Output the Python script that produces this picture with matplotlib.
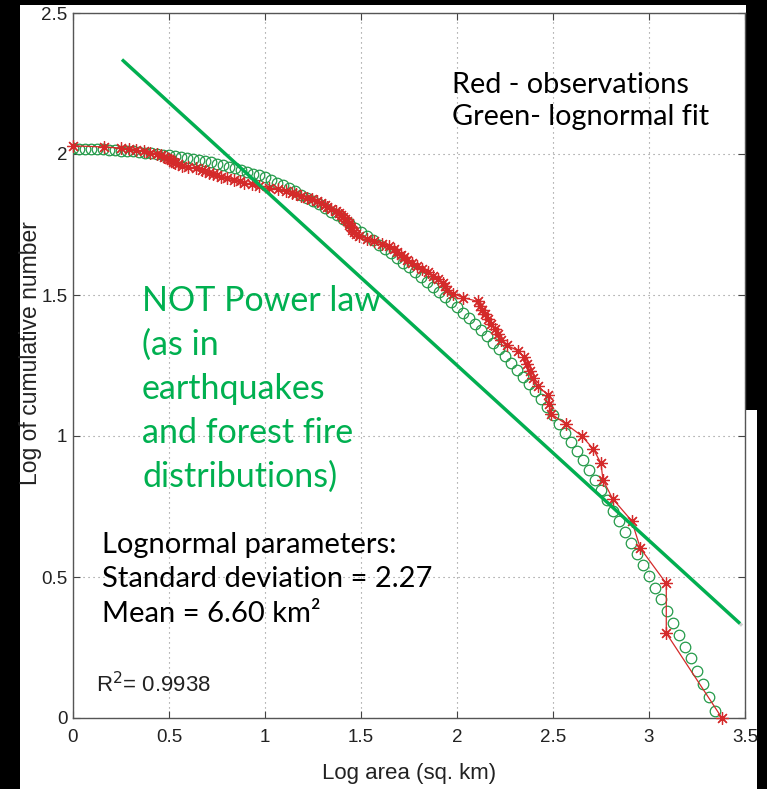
import matplotlib
matplotlib.use("Agg")
import matplotlib.pyplot as plt
import matplotlib.patheffects as pe
from matplotlib.patches import Rectangle

# lognormal fit (green circles)
fit_x = [0.000, 0.031, 0.062, 0.094, 0.125, 0.156, 0.188, 0.219, 0.250, 0.281, 0.312, 0.344,
         0.375, 0.406, 0.438, 0.469, 0.500, 0.531, 0.562, 0.594, 0.625, 0.656, 0.688, 0.719,
         0.750, 0.781, 0.812, 0.844, 0.875, 0.906, 0.938, 0.969, 1.000, 1.031, 1.062, 1.094,
         1.125, 1.156, 1.188, 1.219, 1.250, 1.281, 1.312, 1.344, 1.375, 1.406, 1.438, 1.469,
         1.500, 1.531, 1.562, 1.594, 1.625, 1.656, 1.688, 1.719, 1.750, 1.781, 1.812, 1.844,
         1.875, 1.906, 1.938, 1.969, 2.000, 2.031, 2.062, 2.094, 2.125, 2.156, 2.188, 2.219,
         2.250, 2.281, 2.312, 2.344, 2.375, 2.406, 2.438, 2.469, 2.500, 2.531, 2.562, 2.594,
         2.625, 2.656, 2.688, 2.719, 2.750, 2.781, 2.812, 2.844, 2.875, 2.906, 2.938, 2.969,
         3.000, 3.031, 3.062, 3.094, 3.125, 3.156, 3.188, 3.219, 3.250, 3.281, 3.312, 3.344]
fit_y = [2.020, 2.019, 2.019, 2.018, 2.017, 2.016, 2.015, 2.013, 2.012, 2.010, 2.009, 2.007,
         2.005, 2.003, 2.001, 1.998, 1.996, 1.993, 1.990, 1.986, 1.983, 1.979, 1.975, 1.970,
         1.966, 1.960, 1.955, 1.949, 1.944, 1.937, 1.930, 1.924, 1.917, 1.908, 1.898, 1.889,
         1.879, 1.868, 1.856, 1.845, 1.834, 1.821, 1.808, 1.795, 1.782, 1.768, 1.754, 1.739,
         1.725, 1.710, 1.694, 1.679, 1.664, 1.648, 1.632, 1.615, 1.599, 1.582, 1.564, 1.547,
         1.530, 1.512, 1.494, 1.476, 1.458, 1.437, 1.417, 1.396, 1.375, 1.353, 1.330, 1.308,
         1.285, 1.260, 1.235, 1.210, 1.185, 1.158, 1.130, 1.103, 1.075, 1.043, 1.011, 0.980,
         0.948, 0.914, 0.879, 0.845, 0.810, 0.773, 0.735, 0.698, 0.660, 0.621, 0.582, 0.542,
         0.503, 0.462, 0.421, 0.379, 0.338, 0.296, 0.253, 0.211, 0.168, 0.122, 0.075, 0.025]

# observations (red stars)
obs_x = [0.00, 0.16, 0.25, 0.29, 0.33, 0.37, 0.40, 0.44, 0.46, 0.475, 0.49, 0.50, 0.51, 0.52,
         0.53, 0.545, 0.57, 0.60, 0.64, 0.67, 0.69, 0.71, 0.73, 0.75, 0.77, 0.80, 0.84, 0.87,
         0.89, 0.93, 0.97, 1.02, 1.07, 1.11, 1.14, 1.16, 1.19, 1.22, 1.245, 1.27, 1.29, 1.31,
         1.325, 1.345, 1.37, 1.385, 1.395, 1.405, 1.415, 1.425, 1.435, 1.44, 1.45, 1.455, 1.465,
         1.475, 1.49, 1.53, 1.57, 1.61, 1.645, 1.67, 1.69, 1.71, 1.725, 1.74, 1.765, 1.79,
         1.82, 1.85, 1.875, 1.90, 1.925, 1.935, 1.95, 1.98, 2.03, 2.11, 2.12, 2.13, 2.147,
         2.163, 2.178, 2.20, 2.215, 2.228, 2.26, 2.32, 2.35, 2.365, 2.38, 2.395, 2.42, 2.475,
         2.48, 2.49, 2.57, 2.65, 2.71, 2.75, 2.76, 2.81, 2.91, 2.955, 3.09, 3.09, 3.38]
obs_y = [2.029, 2.025, 2.021, 2.017, 2.013, 2.009, 2.004, 2.000, 1.996, 1.991, 1.987, 1.982,
         1.978, 1.973, 1.968, 1.964, 1.959, 1.954, 1.949, 1.944, 1.940, 1.934, 1.929, 1.924,
         1.919, 1.914, 1.908, 1.903, 1.898, 1.892, 1.886, 1.881, 1.875, 1.869, 1.863, 1.857,
         1.851, 1.845, 1.839, 1.833, 1.826, 1.820, 1.813, 1.806, 1.799, 1.792, 1.785, 1.778,
         1.771, 1.763, 1.756, 1.748, 1.740, 1.732, 1.724, 1.716, 1.708, 1.699, 1.690, 1.681,
         1.672, 1.663, 1.653, 1.643, 1.633, 1.623, 1.613, 1.602, 1.591, 1.580, 1.568, 1.556,
         1.544, 1.531, 1.519, 1.505, 1.491, 1.477, 1.462, 1.447, 1.431, 1.415, 1.398, 1.380,
         1.362, 1.342, 1.322, 1.301, 1.279, 1.255, 1.230, 1.204, 1.176, 1.146, 1.114, 1.079,
         1.041, 1.000, 0.954, 0.903, 0.845, 0.778, 0.699, 0.602, 0.477, 0.301, 0.000]

# hand-drawn power law line
power_x = [0.255, 3.474]
power_y = [2.335, 0.335]

x_ticks = [0, 0.5, 1, 1.5, 2, 2.5, 3, 3.5]
x_tick_labels = ["0", "0.5", "1", "1.5", "2", "2.5", "3", "3.5"]
y_ticks = [0, 0.5, 1, 1.5, 2, 2.5]
y_tick_labels = ["0", "0.5", "1", "1.5", "2", "2.5"]

W, H = 767, 789
matlab_font = ["Liberation Sans", "DejaVu Sans"]
ppt = ["Lato", "DejaVu Sans"]
ppt_green = "#00b050"

fig = plt.figure(figsize=(W / 100, H / 100), dpi=100, facecolor="black")
# white slide area
fig.patches.append(Rectangle((20 / W, 0), 726 / W, 784 / H, transform=fig.transFigure,
                             facecolor="white", edgecolor="none", zorder=-5))
fig.patches.append(Rectangle((746 / W, 0), 11 / W, 379 / H, transform=fig.transFigure,
                             facecolor="white", edgecolor="none", zorder=-5))

ax = fig.add_axes([73 / W, 1 - 718 / H, 672 / W, 705 / H])
ax.set_xlim(0, 3.5)
ax.set_ylim(0, 2.5)
ax.set_xticks(x_ticks)
ax.set_xticklabels(x_tick_labels, family=matlab_font, fontsize=13.5)
ax.set_yticks(y_ticks)
ax.set_yticklabels(y_tick_labels, family=matlab_font, fontsize=13.5)
ax.tick_params(direction="in", top=True, right=True, length=5, width=0.8,
               color="#444444", labelcolor="#222222")
ax.tick_params(axis="x", pad=8)
ax.tick_params(axis="y", pad=4)
for s in ax.spines.values():
    s.set_color("#555555")
    s.set_linewidth(1.0)
ax.grid(True, color="#8a8a8a", linestyle=(0, (1, 3.5)), linewidth=0.8)

ax.plot(fit_x, fit_y, "o", mfc="none", mec="#239a49", ms=7.6, mew=0.9, zorder=3)
ax.plot(obs_x, obs_y, "-", color="#d42a2a", lw=0.9, marker=(8, 2, 0), ms=9,
        mew=0.9, mec="#d42a2a", zorder=4, clip_on=False)
ax.plot(power_x, power_y, "-", color=ppt_green, lw=2.4, solid_capstyle="butt", zorder=5,
        path_effects=[pe.SimpleLineShadow(offset=(1.5, -1.5), shadow_color="#777777", alpha=0.35),
                      pe.Normal()])

def px(x, y):
    return x / W, 1 - y / H

fig.text(*px(409, 773), "Log area (sq. km)", family=matlab_font, fontsize=16,
         color="#222222", ha="center", va="center")
fig.text(*px(31, 353), "Log of cumulative number", family=matlab_font, fontsize=16.5,
         color="#222222", ha="center", va="center", rotation=90)

fig.text(*px(452, 93), "Red - observations", family=ppt, fontsize=20.8, va="baseline")
fig.text(*px(452, 125), "Green- lognormal fit", family=ppt, fontsize=20.8, va="baseline")

green_lines = ["NOT Power law", "(as in", "earthquakes", "and forest fire", "distributions)"]
for i, line in enumerate(green_lines):
    fig.text(*px(142, 311 + 44 * i), line, family=ppt, fontsize=24.5, color=ppt_green,
             va="baseline")

fig.text(*px(102, 553), "Lognormal parameters:", family=ppt, fontsize=21, va="baseline")
fig.text(*px(102, 587), "Standard deviation = 2.27", family=ppt, fontsize=21, va="baseline")
fig.text(*px(102, 622), "Mean = 6.60 km\u00b2", family=ppt, fontsize=21, va="baseline")

fig.text(*px(96, 692), r"R$^{2}$= 0.9938", family=matlab_font, fontsize=16, color="#222222",
         va="baseline")

fig.savefig("out.png", dpi=100, facecolor=fig.get_facecolor())
